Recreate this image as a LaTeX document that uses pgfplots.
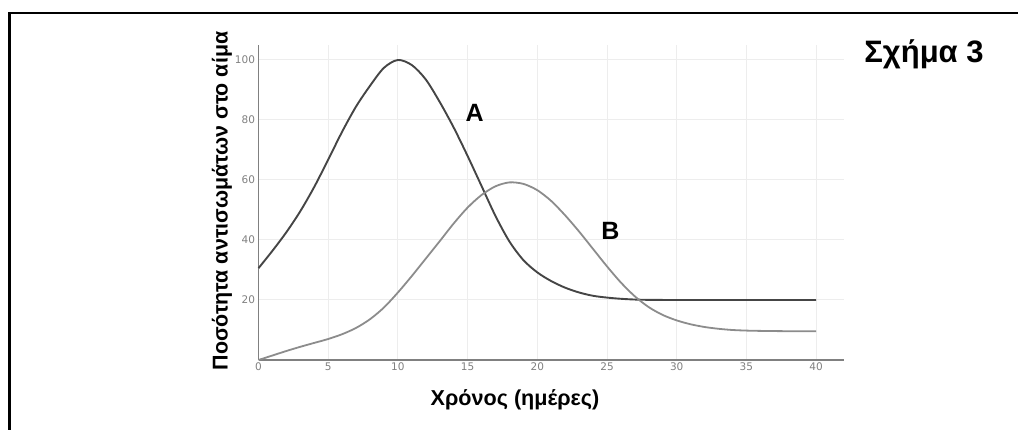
\documentclass[border=0pt]{standalone}
\usepackage{fontspec}
\setmainfont{Liberation Sans}
\newfontfamily\tickfont{DejaVu Sans}
\usepackage{pgfplots}
\pgfplotsset{compat=1.18}
\definecolor{curveA}{HTML}{454545}
\definecolor{curveB}{HTML}{8C8C8C}
\definecolor{axisgray}{HTML}{808080}
\begin{document}
\begin{tikzpicture}[x=1pt,y=1pt]
  \path[use as bounding box] (0,0) rectangle (1018,430);
  % frame
  \draw[line width=2.6pt] (9.3,0) -- (9.3,417) -- (1018,417);
  \begin{axis}[
    at={(258.5pt,70pt)}, anchor=south west,
    scale only axis, width=585.5pt, height=315pt,
    xmin=0, xmax=42, ymin=0, ymax=105,
    axis lines=left,
    axis line style={-, draw=axisgray, line width=1.6pt},
    xtick={0,5,...,40}, ytick={20,40,...,100},
    grid=major,
    major grid style={draw=gray!14, line width=1pt},
    major tick length=0pt,
    /pgf/number format/assume math mode=true,
    tick label style={font=\tickfont\fontsize{10.5}{12}\selectfont, text=gray},
    xticklabel style={yshift=1pt},
    clip=false,
  ]
    \addplot[curveA, line width=1.9pt, smooth] coordinates {
      (0,30.6) (1,36.4) (2,42.6) (3,49.6) (4,57.7) (5,66.8) (6,76.1) (7,84.5)
      (8,91.4) (9,97.4) (10,100) (11,98.3) (12,93.5) (13,86) (14,77.5)
      (15,68) (16,58) (17,48) (18,39.5) (19,33.3) (20,29.2) (21,26.3)
      (22,24.1) (23,22.5) (24,21.4) (25,20.8) (26,20.4) (27,20.15) (28,20.05)
      (30,20) (35,20) (40,20)
    };
    \addplot[curveB, line width=1.8pt, smooth] coordinates {
      (0,0) (1,1.5) (2,3.0) (3,4.4) (4,5.7) (5,7.0) (6,8.6) (7,10.7) (8,13.6)
      (9,17.5) (10,22.5) (11,28) (12,33.8) (13,39.6) (14,45.5) (15,50.8)
      (16,55) (17,57.9) (18,59.2) (19,58.7) (20,56.6) (21,53) (22,48.2)
      (23,42.8) (24,37) (25,31.2) (26,25.8) (27,21.2) (28,17.6) (29,15)
      (30,13.2) (31,11.9) (32,11) (33,10.4) (34,10) (35,9.8) (36,9.7)
      (38,9.6) (40,9.6)
    };
    \node[font=\bfseries\fontsize{25}{27}\selectfont] at (axis cs:15.5,82.3) {A};
    \node[font=\bfseries\fontsize{25}{27}\selectfont] at (axis cs:25.25,43) {B};
  \end{axis}
  \node[font=\bfseries\fontsize{21.4}{23}\selectfont, rotate=90] at (222,229) {Ποσότητα αντισωμάτων στο αίμα};
  \node[font=\bfseries\fontsize{21.6}{23}\selectfont] at (515,30) {Χρόνος (ημέρες)};
  \node[font=\bfseries\fontsize{31}{34}\selectfont] at (924,376) {Σχήμα 3};
\end{tikzpicture}
\end{document}
